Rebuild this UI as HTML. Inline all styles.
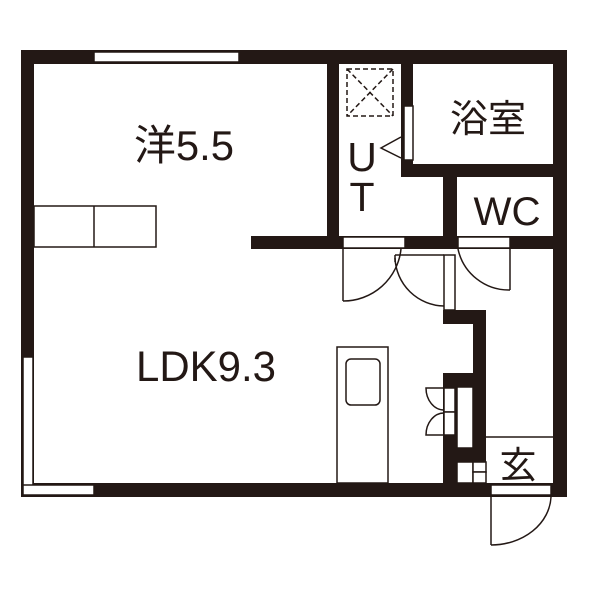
<!DOCTYPE html>
<html><head><meta charset="utf-8"><style>html,body{margin:0;padding:0;background:#fff}svg{display:block}</style></head><body>
<svg width="600" height="600" viewBox="0 0 600 600" xmlns="http://www.w3.org/2000/svg">
<rect width="600" height="600" fill="#fff"/>
<g fill="#231815">
<rect x="21" y="50" width="546" height="14"/>
<rect x="21" y="50" width="13" height="447"/>
<rect x="21" y="483" width="546" height="14"/>
<rect x="553" y="50" width="14" height="447"/>
<rect x="327" y="50" width="12" height="199"/>
<rect x="401" y="50" width="12" height="127"/>
<rect x="401" y="164" width="152" height="13"/>
<rect x="443" y="164" width="14" height="85"/>
<rect x="251" y="236" width="302" height="13"/>
<rect x="443" y="310" width="43" height="14"/>
<rect x="473" y="310" width="13" height="152"/>
<rect x="443" y="373" width="43" height="14"/>
<rect x="443" y="373" width="14" height="110"/>
<rect x="443" y="448" width="43" height="14"/>
</g>
<g fill="#fff" stroke="#231815" stroke-width="1.5">
<rect x="94" y="52" width="145" height="10"/>
<rect x="23" y="357" width="10" height="138"/>
<rect x="23" y="485" width="71" height="10"/>
<rect x="491" y="485" width="60" height="10"/>
<rect x="404" y="106" width="9" height="54"/>
<rect x="343" y="237" width="62" height="11"/>
<rect x="458" y="237" width="52" height="11"/>
<rect x="444" y="255" width="11" height="55"/>
<rect x="457" y="387" width="16" height="61"/>
<rect x="444" y="388" width="11" height="24"/>
<rect x="444" y="412" width="11" height="23"/>
<rect x="457" y="462" width="16" height="21"/>
<rect x="473" y="462" width="13" height="10"/>
<rect x="473" y="472" width="13" height="11"/>
</g>
<g fill="none" stroke="#231815" stroke-width="1.5">
<rect x="34" y="206" width="122" height="41"/>
<line x1="94" y1="206" x2="94" y2="247"/>
<line x1="343" y1="249" x2="343" y2="301"/>
<path d="M343 301 A58 58 0 0 0 401 249"/>
<line x1="395" y1="255" x2="444" y2="255"/>
<line x1="395" y1="255" x2="395" y2="262"/>
<path d="M395 258 A50 50 0 0 0 444 306"/>
<line x1="510" y1="249" x2="510" y2="290"/>
<path d="M458 249 A52 52 0 0 0 510 290"/>
<path d="M444 388 L426 388 A18 22 0 0 0 444 410"/>
<path d="M444 435 L426 435 A18 22 0 0 1 444 413"/>
<line x1="486" y1="437" x2="553" y2="437"/>
<line x1="491" y1="497" x2="491" y2="545"/>
<path d="M491 545 A60 50 0 0 0 551 497"/>
<rect x="337" y="347" width="51" height="136"/>
<rect x="346" y="359" width="34" height="46" rx="5"/>
<rect x="347" y="69" width="46" height="47" stroke-dasharray="5,3"/>
<line x1="347" y1="69" x2="393" y2="116" stroke-dasharray="5,3"/>
<line x1="393" y1="69" x2="347" y2="116" stroke-dasharray="5,3"/>
<polyline points="401,137 381,148 401,158"/>
</g>
<g fill="#231815" font-family="Liberation Sans, 'Noto Sans CJK JP', sans-serif">
<text x="184" y="160" font-size="42" text-anchor="middle" textLength="100" lengthAdjust="spacingAndGlyphs">洋5.5</text>
<text x="206" y="381" font-size="43" text-anchor="middle" textLength="140" lengthAdjust="spacingAndGlyphs">LDK9.3</text>
<text x="488" y="132" font-size="38" text-anchor="middle">浴室</text>
<text x="362" y="171" font-size="41" text-anchor="middle">U</text>
<text x="362" y="211" font-size="41" text-anchor="middle">T</text>
<text x="507" y="225" font-size="40" text-anchor="middle" textLength="67" lengthAdjust="spacingAndGlyphs">WC</text>
<text x="518" y="478" font-size="37" text-anchor="middle">玄</text>
</g>
</svg>
</body></html>
